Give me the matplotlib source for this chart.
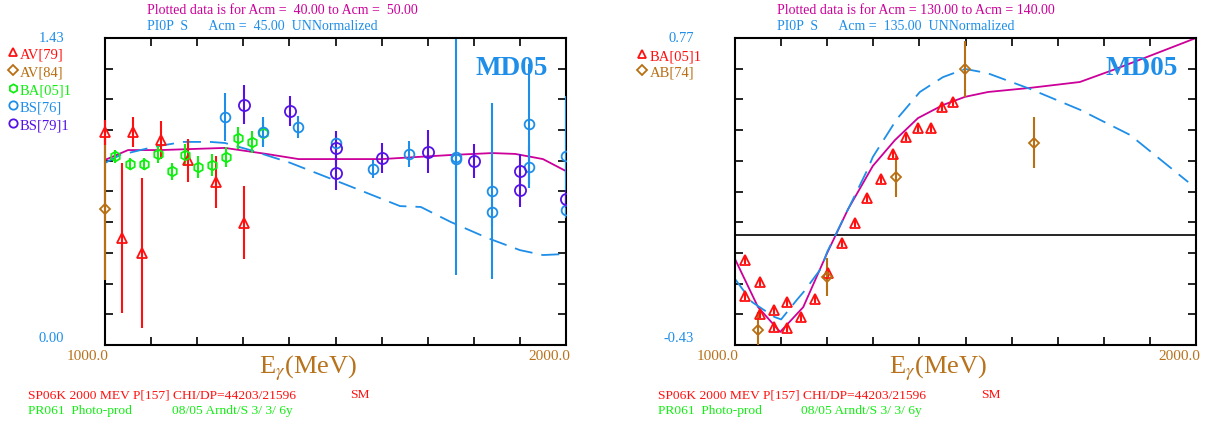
import numpy as np
import matplotlib
matplotlib.use("Agg")
import matplotlib.pyplot as plt
from matplotlib.lines import Line2D

plt.rcParams['font.family'] = ['Liberation Serif', 'DejaVu Serif']
plt.rcParams['mathtext.fontset'] = 'stix'

# ---- left panel data (Acm 40-50) ----
av79_e = [1000, 1037, 1061, 1080, 1121, 1180, 1241, 1302]
av79_y = [0.99, 0.50, 0.99, 0.43, 0.955, 0.86, 0.76, 0.57]
av79_err = [0.06, 0.35, 0.07, 0.35, 0.09, 0.10, 0.12, 0.17]

av84_e = [1000]
av84_y = [0.633]
av84_err = [0.33]

ba05_e = [1022, 1054, 1085, 1115, 1145, 1174, 1202, 1232, 1262, 1289, 1319, 1343]
ba05_y = [0.88, 0.843, 0.843, 0.89, 0.81, 0.885, 0.829, 0.838, 0.876, 0.964, 0.946, 0.988]
ba05_err = [0.03, 0.03, 0.03, 0.04, 0.04, 0.05, 0.05, 0.05, 0.045, 0.05, 0.05, 0.06]

bs76_e = [1260, 1343, 1419, 1501, 1581, 1660, 1761, 1761, 1839, 1839, 1920, 1920, 2000, 2000]
bs76_y = [1.062, 0.99, 1.015, 0.94, 0.82, 0.89, 0.876, 0.865, 0.717, 0.62, 1.03, 0.83, 0.88, 0.63]
bs76_err = [0.11, 0.07, 0.05, 0.04, 0.04, 0.06, 0.55, 0.08, 0.41, 0.07, 0.28, 0.10, 0.28, 0.04]

bs79_e = [1302, 1401, 1501, 1501, 1601, 1701, 1800, 1900, 1900, 2000]
bs79_y = [1.12, 1.09, 0.918, 0.80, 0.871, 0.90, 0.857, 0.81, 0.722, 0.68]
bs79_err = [0.09, 0.07, 0.08, 0.08, 0.07, 0.10, 0.08, 0.08, 0.08, 0.04]

sm_l_e = [1000, 1050, 1120, 1260, 1350, 1420, 1600, 1750, 1840, 1890, 1950, 2000]
sm_l_y = [0.862, 0.908, 0.908, 0.918, 0.89, 0.866, 0.866, 0.885, 0.894, 0.89, 0.866, 0.81]
md_l_e = [1000, 1033, 1104, 1169, 1228, 1260, 1315, 1400, 1525, 1640, 1685, 1750, 1830, 1900, 1950, 2000]
md_l_y = [0.848, 0.885, 0.922, 0.946, 0.946, 0.941, 0.908, 0.85, 0.745, 0.647, 0.643, 0.573, 0.498, 0.442, 0.419, 0.424]

# ---- right panel data (Acm 130-140) ----
ba05r_e = [1022, 1022, 1054, 1054, 1085, 1085, 1113, 1113, 1143, 1174, 1202,
           1232, 1260, 1287, 1317, 1343, 1371, 1397, 1425, 1449, 1473]
ba05r_y = [-0.098, -0.238, -0.184, -0.309, -0.293, -0.360, -0.262, -0.364, -0.321, -0.250, -0.149,
           -0.031, 0.047, 0.145, 0.219, 0.317, 0.383, 0.418, 0.418, 0.500, 0.52]
ba05r_err = [0.015] * 21

ab74_e = [1050, 1200, 1349, 1499, 1649]
ab74_y = [-0.371, -0.164, 0.227, 0.649, 0.36]
ab74_err = [0.07, 0.076, 0.08, 0.11, 0.10]

sm_r_e = [1000, 1050, 1098, 1148, 1200, 1245, 1299, 1347, 1397, 1451, 1499, 1549, 1640, 1748, 1820, 1894, 2000]
sm_r_y = [-0.094, -0.282, -0.379, -0.282, -0.07, 0.10, 0.27, 0.371, 0.457, 0.508, 0.54, 0.559, 0.575, 0.598, 0.645, 0.696, 0.77]
md_r_e = [1000, 1037, 1085, 1100, 1134, 1150, 1187, 1200, 1287, 1299, 1351, 1401, 1451, 1499, 1547, 1640, 1749, 1857, 1983]
md_r_y = [-0.172, -0.262, -0.32, -0.33, -0.254, -0.22, -0.13, -0.066, 0.254, 0.305, 0.453, 0.559, 0.617, 0.649, 0.633, 0.571, 0.489, 0.391, 0.207]

RED = '#ff1010'
ORANGE = '#b86e12'
GREEN = '#11ee11'
BLUE = '#1e8ee8'
PURPLE = '#5512e6'
MAGENTA = '#cc0099'
BROWN = '#b8721c'

W, H = 1225, 426
fig = plt.figure(figsize=(W / 100, H / 100), dpi=100)


def fx(px):
    return px / W


def fy(py):
    return 1 - py / H


def ftext(px, py, s, **kw):
    kw.setdefault('va', 'center')
    fig.text(fx(px), fy(py), s, **kw)


def fmark(px, py, **kw):
    fig.add_artist(Line2D([fx(px)], [fy(py)], transform=fig.transFigure, linestyle='none', **kw))


def eb(ax, e, y, err, color, marker, ms, clip=True):
    c = ax.errorbar(e, y, yerr=err, fmt=marker, color=color, mfc='none', mec=color,
                    ms=ms, mew=1.3, elinewidth=1.5, capsize=0, zorder=3)
    if not clip:
        for art in c.get_children():
            art.set_clip_on(False)


def setup(ax, ymin, ymax):
    ax.set_xlim(1000, 2000)
    ax.set_ylim(ymin, ymax)
    ax.set_xticks(np.arange(1000, 2001, 100))
    ax.set_yticks(np.linspace(ymin, ymax, 11))
    ax.tick_params(direction='in', length=6, width=1.2, top=True, right=True,
                   labelbottom=False, labelleft=False)
    for sp in ax.spines.values():
        sp.set_linewidth(1.5)


ax1 = fig.add_axes([fx(105), fy(345), 461 / W, 307 / H])
setup(ax1, 0.0, 1.43)
ax1.plot(sm_l_e, sm_l_y, color=MAGENTA, lw=1.3)
ax1.plot(md_l_e, md_l_y, color=BLUE, lw=1.3, dashes=(10, 5))
eb(ax1, av84_e, av84_y, av84_err, ORANGE, 'D', 5, clip=False)
eb(ax1, av79_e, av79_y, av79_err, RED, '^', 7, clip=False)
eb(ax1, ba05_e, ba05_y, ba05_err, GREEN, 'h', 7)
eb(ax1, bs76_e, bs76_y, bs76_err, BLUE, 'o', 7)
eb(ax1, bs79_e, bs79_y, bs79_err, PURPLE, 'o', 8)
ax1.text(0.96, 0.9, 'MD05', transform=ax1.transAxes, ha='right', va='center',
         fontsize=19.5, fontweight='bold', color=BLUE)

ax2 = fig.add_axes([fx(735), fy(345), 461 / W, 307 / H])
setup(ax2, -0.43, 0.77)
ax2.axhline(0, color='black', lw=1.2)
ax2.plot(sm_r_e, sm_r_y, color=MAGENTA, lw=1.3)
ax2.plot(md_r_e, md_r_y, color=BLUE, lw=1.3, dashes=(10, 5))
eb(ax2, ba05r_e, ba05r_y, ba05r_err, RED, '^', 7)
eb(ax2, ab74_e, ab74_y, ab74_err, ORANGE, 'D', 5.5)
ax2.text(0.96, 0.9, 'MD05', transform=ax2.transAxes, ha='right', va='center',
         fontsize=19.5, fontweight='bold', color=BLUE)

# ---- annotation text around left panel ----
tfs = 10
ftext(147, 11, 'Plotted data is for Acm =  40.00 to Acm =  50.00', color=MAGENTA, fontsize=tfs)
ftext(147, 27, 'PI0P  S      Acm =  45.00  UNNormalized', color=BLUE, fontsize=tfs)
ftext(64, 38, '1.43', color=BLUE, fontsize=10.5, ha='right')
ftext(64, 338, '0.00', color=BLUE, fontsize=10.5, ha='right')
ftext(109, 356, '1000.0', color=BROWN, fontsize=11, ha='right')
ftext(570, 356, '2000.0', color=BROWN, fontsize=11, ha='right')
ftext(308, 368, r'E$_\gamma$(MeV)', color=BROWN, fontsize=19, ha='center')
ftext(28, 395, 'SP06K 2000 MEV P[157] CHI/DP=44203/21596', color=RED, fontsize=9.7)
ftext(350, 395, 'SM', color=RED, fontsize=9.7)
ftext(28, 411, 'PR061  Photo-prod', color=GREEN, fontsize=9.7)
ftext(172, 411, '08/05 Arndt/S 3/ 3/ 6y', color=GREEN, fontsize=9.7)

leg_l = [('AV[79]', RED, '^', 55), ('AV[84]', ORANGE, 'D', 73), ('BA[05]1', GREEN, 'h', 91),
         ('BS[76]', BLUE, 'o', 108), ('BS[79]1', PURPLE, 'o', 126)]
for lab, c, m, yy in leg_l:
    fmark(13, yy - 3, marker=m, mfc='none', mec=c, ms=6 if m != 'D' else 5, mew=1.3)
    ftext(20, yy, lab, color=c, fontsize=10.5)

# ---- annotation text around right panel ----
ftext(777, 11, 'Plotted data is for Acm = 130.00 to Acm = 140.00', color=MAGENTA, fontsize=tfs)
ftext(777, 27, 'PI0P  S      Acm =  135.00  UNNormalized', color=BLUE, fontsize=tfs)
ftext(694, 38, '0.77', color=BLUE, fontsize=10.5, ha='right')
ftext(694, 338, '-0.43', color=BLUE, fontsize=10.5, ha='right')
ftext(739, 356, '1000.0', color=BROWN, fontsize=11, ha='right')
ftext(1200, 356, '2000.0', color=BROWN, fontsize=11, ha='right')
ftext(938, 368, r'E$_\gamma$(MeV)', color=BROWN, fontsize=19, ha='center')
ftext(658, 395, 'SP06K 2000 MEV P[157] CHI/DP=44203/21596', color=RED, fontsize=9.7)
ftext(981, 395, 'SM', color=RED, fontsize=9.7)
ftext(658, 411, 'PR061  Photo-prod', color=GREEN, fontsize=9.7)
ftext(801, 411, '08/05 Arndt/S 3/ 3/ 6y', color=GREEN, fontsize=9.7)

leg_r = [('BA[05]1', RED, '^', 57), ('AB[74]', ORANGE, 'D', 73)]
for lab, c, m, yy in leg_r:
    fmark(642, yy - 3, marker=m, mfc='none', mec=c, ms=6 if m != 'D' else 5, mew=1.3)
    ftext(650, yy, lab, color=c, fontsize=10.5)

fig.savefig('out.png', dpi=100)
